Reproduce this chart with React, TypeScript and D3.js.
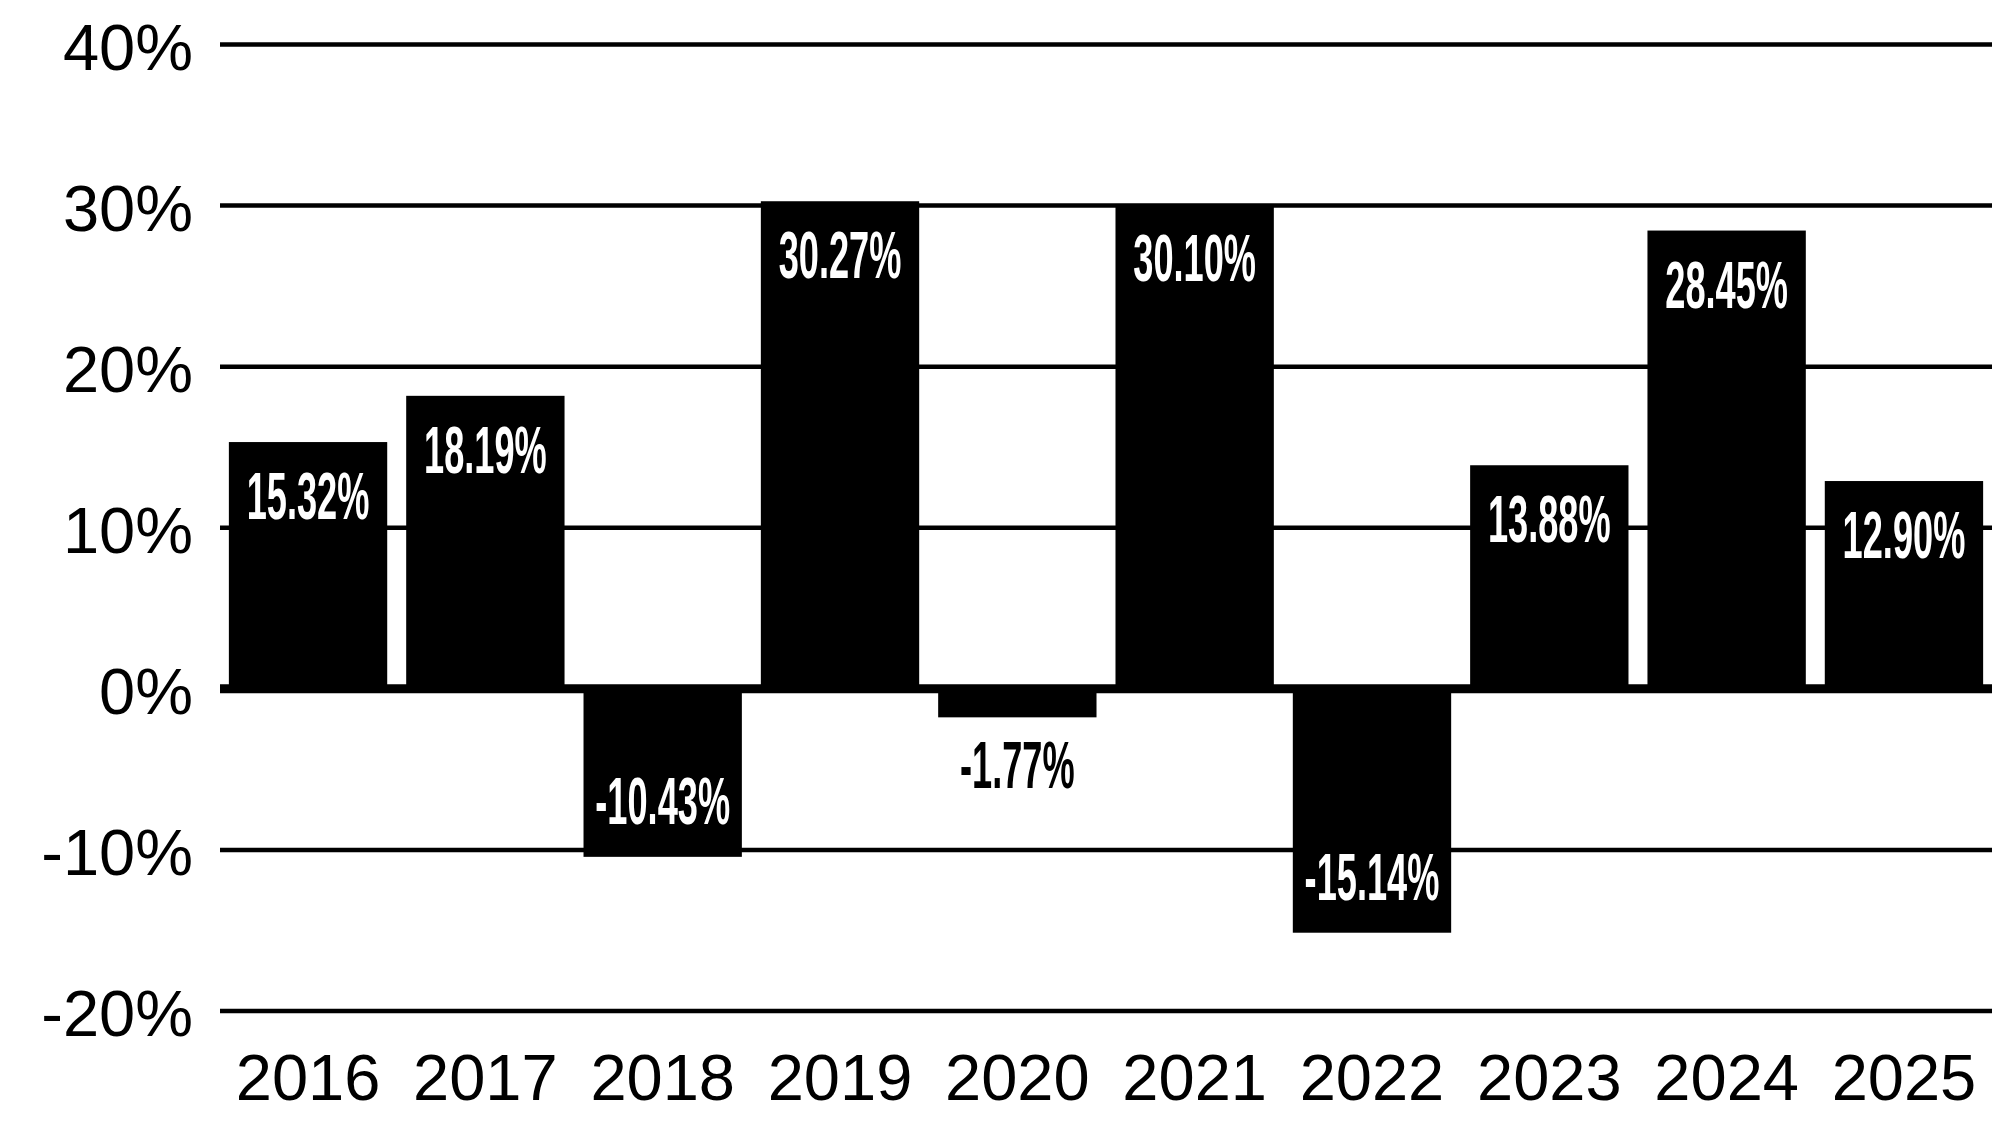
import { scaleBand, scaleLinear } from "d3";

const years = ["2016", "2017", "2018", "2019", "2020", "2021", "2022", "2023", "2024", "2025"];
const returns = [15.32, 18.19, -10.43, 30.27, -1.77, 30.1, -15.14, 13.88, 28.45, 12.9];
const yTicks = [40, 30, 20, 10, 0, -10, -20];

const width = 1992;
const height = 1125;
const margin = { top: 44.5, right: 0, bottom: 114, left: 220 };

export default function App() {
  const x = scaleBand<string>()
    .domain(years)
    .range([margin.left, width - margin.right])
    .paddingInner(0.107)
    .paddingOuter(0.05);

  const y = scaleLinear()
    .domain([-20, 40])
    .range([height - margin.bottom, margin.top]);

  const bw = x.bandwidth();
  const axisFont = "'Liberation Sans', Arial, Helvetica, sans-serif";

  return (
    <div style={{ position: "absolute", left: 0, top: 0 }}>
      <svg width={width} height={height} viewBox={`0 0 ${width} ${height}`} style={{ display: "block", background: "#fff" }}>
        {yTicks.map((t) => (
          <g key={t}>
            <line
              x1={margin.left}
              x2={width - margin.right}
              y1={y(t)}
              y2={y(t)}
              stroke="#000"
              strokeWidth={t === 0 ? 9 : 4.5}
            />
            <text
              x={193}
              y={y(t) + 25}
              textAnchor="end"
              fontFamily={axisFont}
              fontSize={65}
              fill="#000"
            >
              {`${t}%`}
            </text>
          </g>
        ))}

        {years.map((yr, i) => {
          const v = returns[i];
          const top = v >= 0 ? y(v) : y(0);
          const bottom = v >= 0 ? y(0) : y(v);
          const cx = (x(yr) ?? 0) + bw / 2;
          const barH = bottom - top;
          let ly: number;
          let fill = "#fff";
          if (v >= 0) {
            ly = top + 77;
          } else if (barH > 90) {
            ly = bottom - 33;
          } else {
            ly = bottom + 71;
            fill = "#000";
          }
          return (
            <g key={yr}>
              <rect x={x(yr)} y={top} width={bw} height={barH} fill="#000" />
              <text
                transform={`translate(${cx}, ${ly}) scale(0.54, 1)`}
                textAnchor="middle"
                fontFamily={axisFont}
                fontWeight="bold"
                fontSize={67}
                fill={fill}
              >
                {`${v.toFixed(2)}%`}
              </text>
              <text
                x={cx}
                y={1100}
                textAnchor="middle"
                fontFamily={axisFont}
                fontSize={65}
                fill="#000"
              >
                {yr}
              </text>
            </g>
          );
        })}
      </svg>
    </div>
  );
}
